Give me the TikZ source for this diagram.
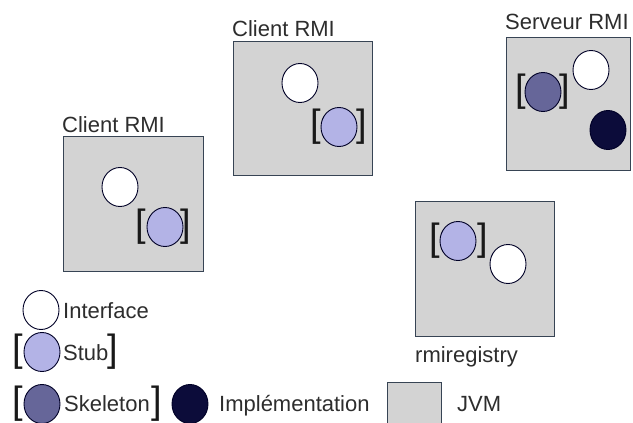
\documentclass[tikz,border=0pt]{standalone}
\usepackage{fontspec}
\setmainfont{Liberation Sans}
\usetikzlibrary{shapes.geometric}

\definecolor{jvmgray}{RGB}{211,211,211}
\definecolor{jvmedge}{RGB}{55,68,84}
\definecolor{stubblue}{RGB}{179,179,230}
\definecolor{skelblue}{RGB}{102,102,153}
\definecolor{impldark}{RGB}{12,12,58}
\definecolor{txtgray}{RGB}{45,45,45}

\begin{document}
\begin{tikzpicture}[x=1pt, y=-1pt,
  jvm/.style={draw=jvmedge, line width=1.3pt, fill=jvmgray, anchor=north west, inner sep=0pt},
  obj/.style={ellipse, draw=black!85!blue, line width=0.9pt, minimum width=36pt, minimum height=39pt, inner sep=0pt},
  iface/.style={obj, fill=white},
  stub/.style={obj, fill=stubblue},
  skel/.style={obj, fill=skelblue},
  impl/.style={obj, fill=impldark},
  brk/.style={font=\fontsize{38}{38}\selectfont, text=black!90, inner sep=0pt},
  lbl/.style={font=\fontsize{22}{24}\selectfont, text=txtgray, inner sep=0pt, anchor=base west}
]
\useasboundingbox (0,0) rectangle (633,423);

% JVM boxes
\node[jvm, minimum width=140pt, minimum height=135pt] (client1) at (63,136) {};
\node[jvm, minimum width=139pt, minimum height=134pt] (client2) at (233,41) {};
\node[jvm, minimum width=124pt, minimum height=133pt] (server) at (506,37) {};
\node[jvm, minimum width=139pt, minimum height=135pt] (registry) at (415,201) {};

\node[lbl] (client1-lbl) at (62,132) {Client RMI};
\node[lbl] (client2-lbl) at (232,36) {Client RMI};
\node[lbl] (server-lbl) at (505,29) {Serveur RMI};
\node[lbl] (registry-lbl) at (415,362) {rmiregistry};

% first client
\node[iface] (c1-iface) at (120,187) {};
\node[stub] (c1-stub) at (165,227) {};
\node[brk] (c1-open) at (141,227) {[};
\node[brk] (c1-close) at (186,227) {]};

% second client
\node[iface] (c2-iface) at (300,83) {};
\node[stub] (c2-stub) at (339,127) {};
\node[brk] (c2-open) at (316,127) {[};
\node[brk] (c2-close) at (362,127) {]};

% server
\node[skel] (s-skel) at (543,92) {};
\node[brk] (s-open) at (521,92) {[};
\node[brk] (s-close) at (565,92) {]};
\node[iface] (s-iface) at (591,70) {};
\node[impl] (s-impl) at (608,130) {};

% registry
\node[stub] (r-stub) at (458,241) {};
\node[brk] (r-open) at (435,241) {[};
\node[brk] (r-close) at (483,241) {]};
\node[iface] (r-iface) at (508,264) {};

% legend
\node[iface] (key-iface) at (41,310) {};
\node[lbl] (key-iface-txt) at (63,318) {Interface};

\node[brk] (key-stub-open) at (18,352) {[};
\node[stub] (key-stub) at (42,352) {};
\node[lbl] (key-stub-txt) at (63,360) {Stub};
\node[brk] (key-stub-close) at (113,352) {]};

\node[brk] (key-skel-open) at (18,404) {[};
\node[skel] (key-skel) at (42,404) {};
\node[lbl] (key-skel-txt) at (64,411) {Skeleton};
\node[brk] (key-skel-close) at (157,404) {]};

\node[impl] (key-impl) at (190,404) {};
\node[lbl] (key-impl-txt) at (219,411) {Implémentation};

\node[jvm, minimum width=54pt, minimum height=60pt] (key-jvm) at (387,382) {};
\node[lbl] (key-jvm-txt) at (457,411) {JVM};

\end{tikzpicture}
\end{document}
